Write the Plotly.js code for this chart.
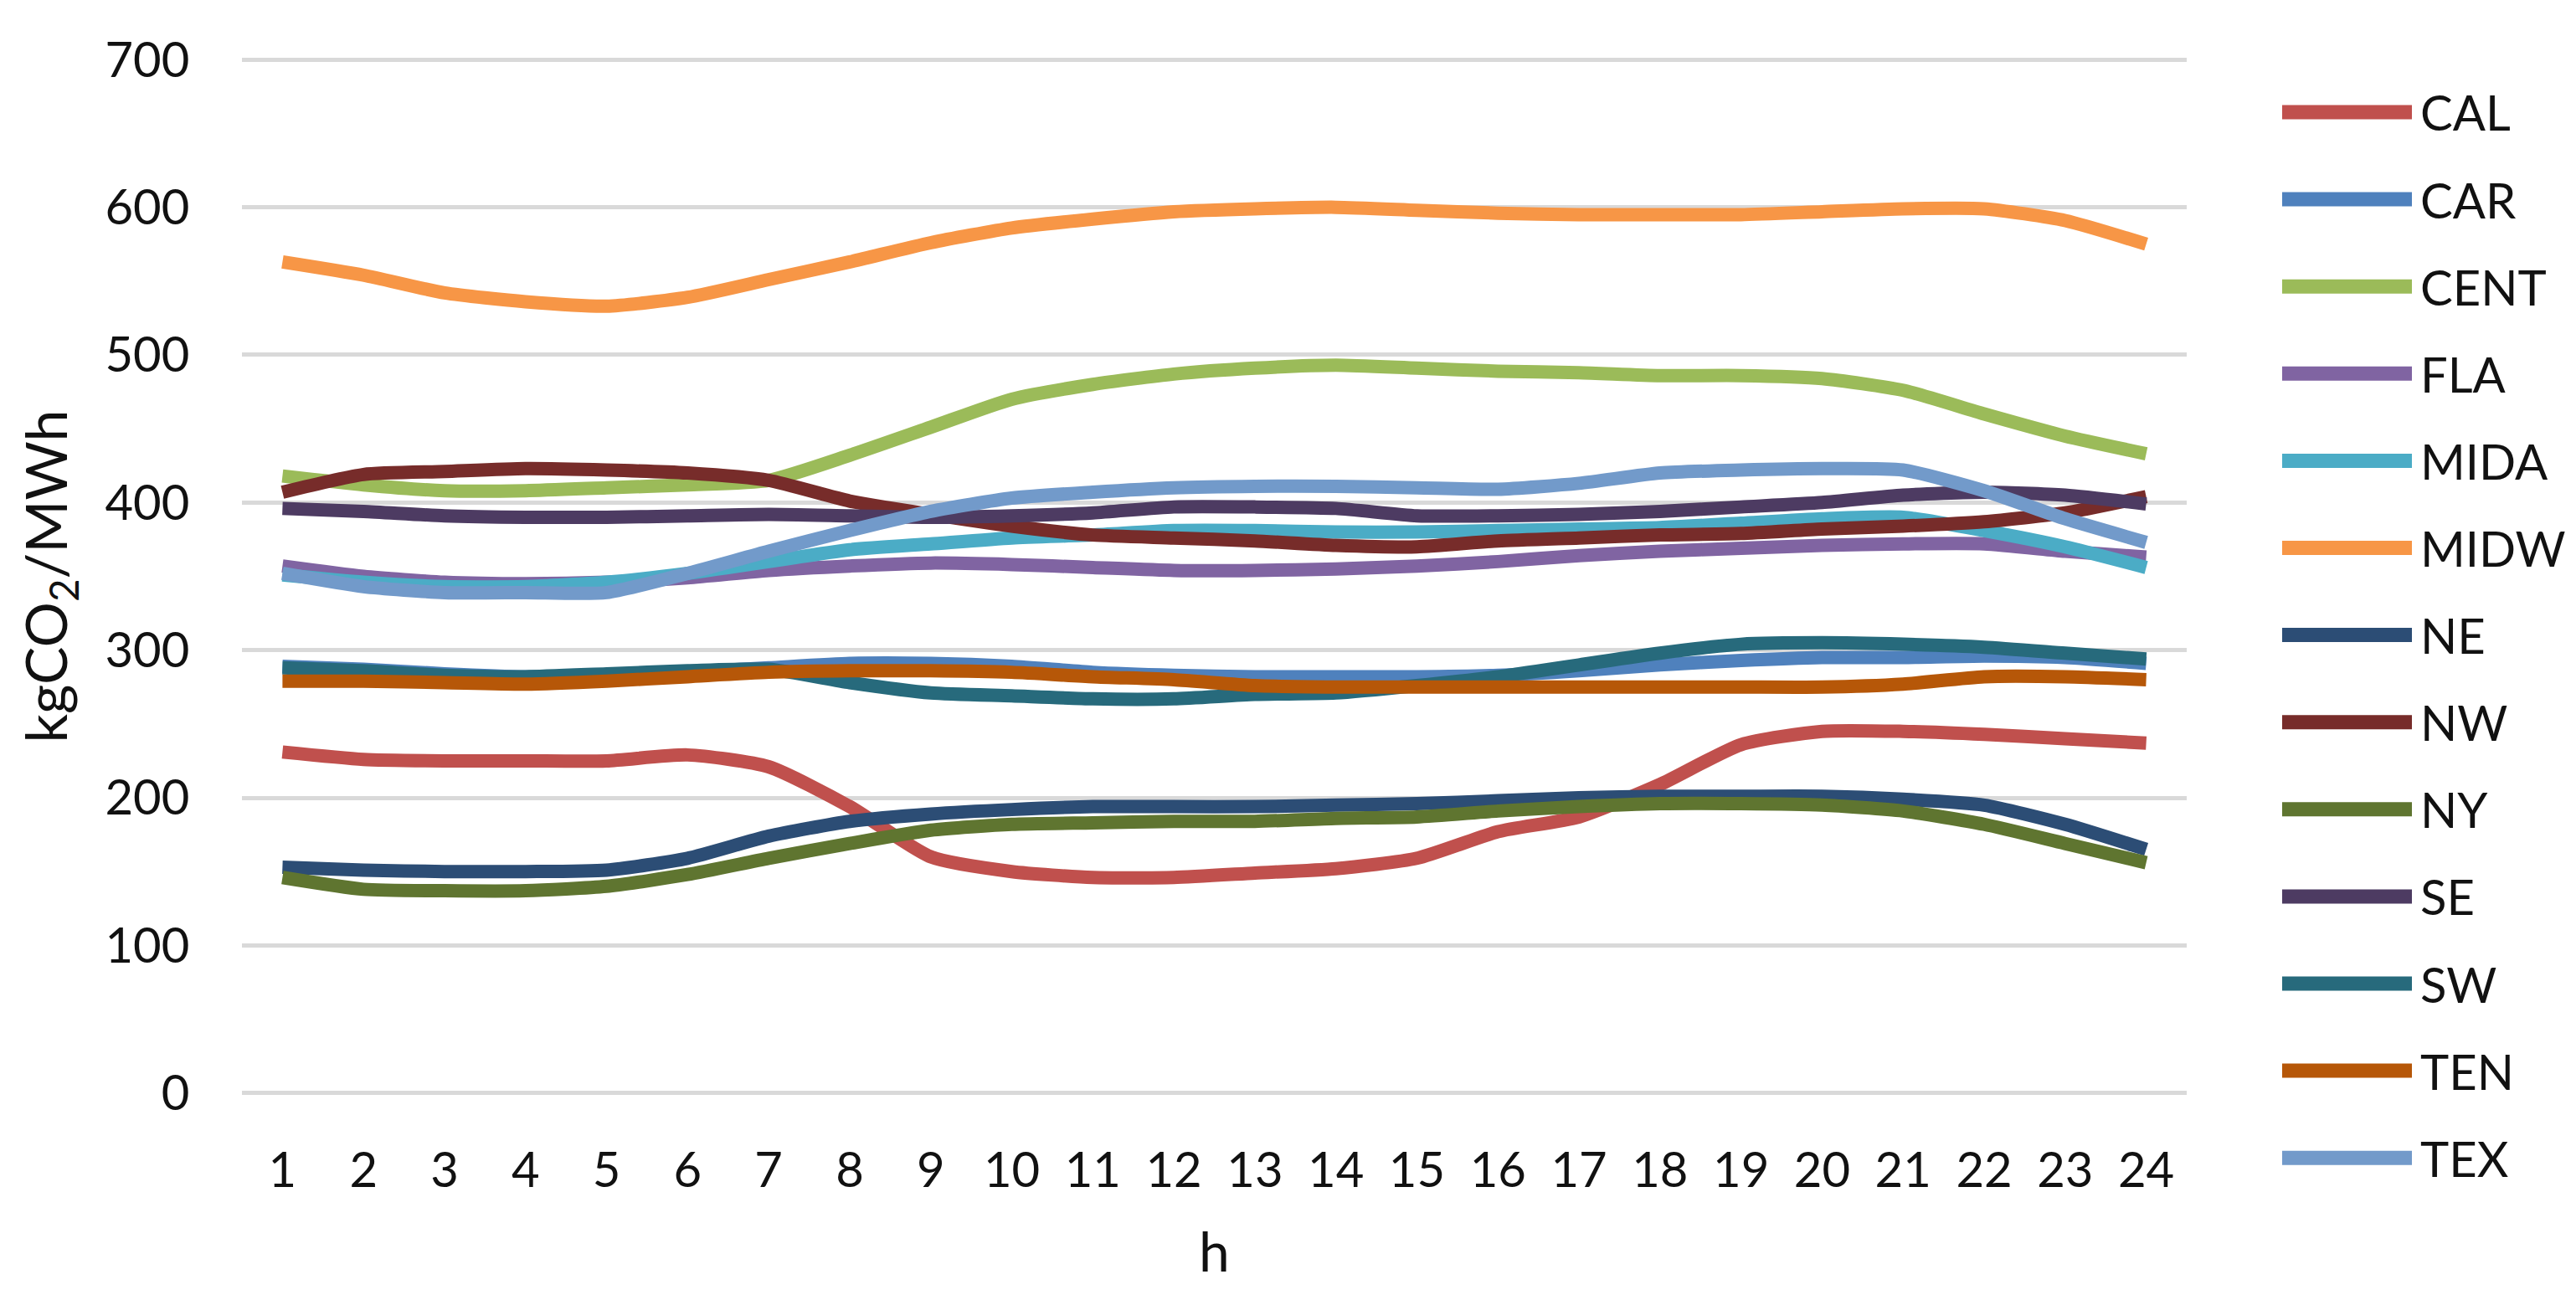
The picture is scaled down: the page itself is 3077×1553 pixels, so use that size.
<!DOCTYPE html>
<html>
<head>
<meta charset="utf-8">
<script src="https://cdn.plot.ly/plotly-3.0.1.min.js"></script>
<style>html,body{margin:0;padding:0;background:#fff;}#chart{width:3077px;height:1553px;}</style>
</head>
<body>
<div id="chart"></div>
<script>
const hours = [1,2,3,4,5,6,7,8,9,10,11,12,13,14,15,16,17,18,19,20,21,22,23,24];
const seriesNames = ["CAL","CAR","CENT","FLA","MIDA","MIDW","NE","NW","NY","SE","SW","TEN","TEX"];
const seriesColors = ["#C0504D","#4F81BD","#9BBB59","#8064A2","#4BACC6","#F79646","#2C4D75","#772C2A","#5F7530","#4D3B62","#276A7C","#B65708","#729ACA"];

const CAL  = [231,226,225,225,225,229,221,194,160,150,146,146,149,152,159,177,187,209,236,245,245,243,240,237];
const CAR  = [289,287,284,282,283,285,288,291,291,289,285,283,282,282,282,283,286,290,293,295,295,296,295,291];
const CENT = [418,412,408,408,410,412,415,432,451,470,480,487,491,493,491,489,488,486,486,484,476,460,445,433];
const FLA  = [357,350,346,345,346,349,354,357,359,358,356,354,354,355,357,360,364,367,369,371,372,372,367,363];
const MIDA = [351,346,343,343,346,352,360,368,372,376,378,381,381,380,380,381,382,383,386,389,390,381,370,356];
const MIDW = [563,554,542,536,533,539,551,563,576,586,592,597,599,600,598,596,595,595,595,597,599,599,591,575];
const NE   = [153,151,150,150,151,159,174,184,189,192,194,194,194,195,196,198,200,201,201,201,199,195,182,165];
const NW   = [407,419,421,423,422,420,415,401,392,384,378,376,374,371,370,374,376,378,379,382,384,387,393,404];
const NY   = [146,138,137,137,140,148,159,169,178,182,183,184,184,186,187,191,194,196,196,195,191,182,169,156];
const SE   = [396,394,391,390,390,391,392,391,390,391,393,397,397,396,391,391,392,394,397,400,405,407,405,399];
const SW   = [288,286,283,282,284,286,287,278,271,269,267,267,270,271,276,282,290,298,304,305,304,302,298,294];
const TEN  = [279,279,278,277,279,282,285,286,286,285,282,280,276,275,275,275,275,275,275,275,277,282,282,280];
const TEX  = [352,343,339,339,339,352,367,381,394,403,407,410,411,411,410,409,413,420,422,423,422,408,389,373];

const yTickVals = [0,100,200,300,400,500,600,700];
const yTitle = "kgCO<sub>2</sub>/MWh";
const xTitle = "h";

const allSeries = [CAL,CAR,CENT,FLA,MIDA,MIDW,NE,NW,NY,SE,SW,TEN,TEX];
const FONT = "Lato, 'Open Sans', sans-serif";

// Plot-area geometry in pixels (used to place the legend in paper coordinates)
const W = 3077, H = 1553;
const M = {l: 289, r: 465, t: 66, b: 242};
const plotW = W - M.l - M.r, plotH = H - M.t - M.b;
const px2x = px => (px - M.l) / plotW;
const py2y = py => (H - M.b - py) / plotH;

const traces = allSeries.map((vals, i) => ({
  type: "scatter",
  mode: "lines",
  name: seriesNames[i],
  x: hours,
  y: vals,
  line: {color: seriesColors[i], width: 16, shape: "spline", smoothing: 0.6},
  hoverinfo: "skip",
  showlegend: false
}));

// Legend (Excel style: long line swatch + label), one row per series
const legendTop = 134, legendStep = 104.1;
const legendShapes = seriesNames.map((n, i) => ({
  type: "line", xref: "paper", yref: "paper",
  x0: px2x(2726), x1: px2x(2881),
  y0: py2y(legendTop + i * legendStep), y1: py2y(legendTop + i * legendStep),
  line: {color: seriesColors[i], width: 17}
}));
const legendLabels = seriesNames.map((n, i) => ({
  xref: "paper", yref: "paper",
  x: px2x(2889), y: py2y(legendTop + i * legendStep),
  xanchor: "left", yanchor: "middle",
  text: n, showarrow: false,
  font: {family: FONT, size: 58, color: "#111111"}
}));

const layout = {
  width: W,
  height: H,
  paper_bgcolor: "#ffffff",
  plot_bgcolor: "#ffffff",
  margin: {l: M.l, r: M.r, t: M.t, b: M.b, pad: 0, autoexpand: false},
  font: {family: FONT, color: "#111111", size: 58},
  showlegend: false,
  shapes: legendShapes,
  annotations: legendLabels,
  xaxis: {
    type: "linear",
    range: [0.5, 24.5],
    tickvals: hours,
    ticktext: hours.map(String),
    showgrid: false,
    zeroline: false,
    showline: false,
    ticks: "outside",
    ticklen: 36,
    tickcolor: "rgba(0,0,0,0)",
    tickfont: {family: FONT, size: 58, color: "#111111"},
    title: {text: xTitle, font: {family: FONT, size: 66, color: "#111111"}, standoff: 44}
  },
  yaxis: {
    range: [-3, 703],
    tickvals: yTickVals,
    showgrid: true,
    gridcolor: "#D9D9D9",
    gridwidth: 5,
    zeroline: false,
    showline: false,
    ticks: "outside",
    ticklen: 50,
    tickcolor: "rgba(0,0,0,0)",
    tickfont: {family: FONT, size: 58, color: "#111111"},
    title: {text: yTitle, font: {family: FONT, size: 68, color: "#111111"}, standoff: 22}
  }
};

Plotly.newPlot("chart", traces, layout, {staticPlot: true, displayModeBar: false});
</script>
</body>
</html>
